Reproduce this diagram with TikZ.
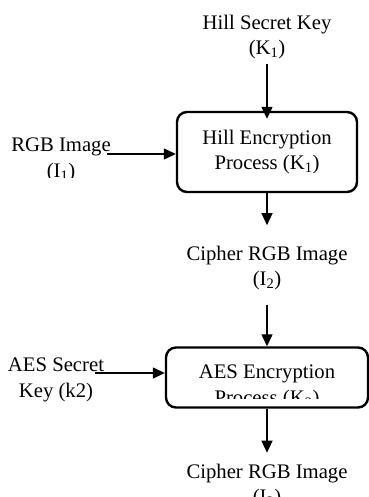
\documentclass[tikz,border=0pt]{standalone}
\usepackage{fontspec}
\setmainfont{Liberation Serif}
\usetikzlibrary{arrows.meta}

\begin{document}
\begin{tikzpicture}[x=1pt,y=-1pt,>={Triangle[length=12pt,width=11pt]},
  font=\fontsize{20.7}{25.5}\selectfont,line width=1.3pt]
\tikzset{lbl/.style={align=center,inner sep=0pt},
  procbox/.style={draw,line width=2.4pt,rounded corners=10pt,align=center,inner sep=0pt}}
\useasboundingbox (0,0) rectangle (368,497);
% hill stage
\node[lbl] (hillkey) at (267,37) {Hill Secret Key\\(K\textsubscript{1})};
\node[procbox,minimum width=180pt,minimum height=80pt] (hillbox) at (267,152)
  {Hill Encryption\\Process (K\textsubscript{1})};
\begin{scope}
\clip (0,120) rectangle (170,177);
\node[lbl] (rgbimg) at (61,160) {RGB Image\\(I\textsubscript{1})};
\end{scope}
\coordinate (rgbend) at (107,154);
\node[lbl] (cipherone) at (267,268) {Cipher RGB Image\\(I\textsubscript{2})};
% aes stage
\node[procbox,minimum width=202pt,minimum height=60pt] (aesbox) at (267,377.5) {};
\begin{scope}
\clip (170,350) rectangle (368,398);
\node[lbl] (aestxt) at (267,387) {AES Encryption\\Process (K\textsubscript{2})};
\end{scope}
\node[lbl] (aeskey) at (56,380) {AES Secret\\Key (k2)};
\coordinate (aesend) at (95,373);
\node[lbl] (ciphertwo) at (267,486) {Cipher RGB Image\\(I\textsubscript{3})};
% connectors
\draw[->] ([yshift=-4pt]hillkey.south) -- ([yshift=-8pt]hillbox.north);
\draw[->] (rgbend) -- (rgbend -| hillbox.west);
\draw[->] (hillbox.south) -- ++(0,32);
\draw[->] ([yshift=-14pt]cipherone.south) -- (aesbox.north);
\draw[->] (aesend) -- (aesend -| aesbox.west);
\draw[->] (aesbox.south) -- ++(0,44);
\end{tikzpicture}
\end{document}
